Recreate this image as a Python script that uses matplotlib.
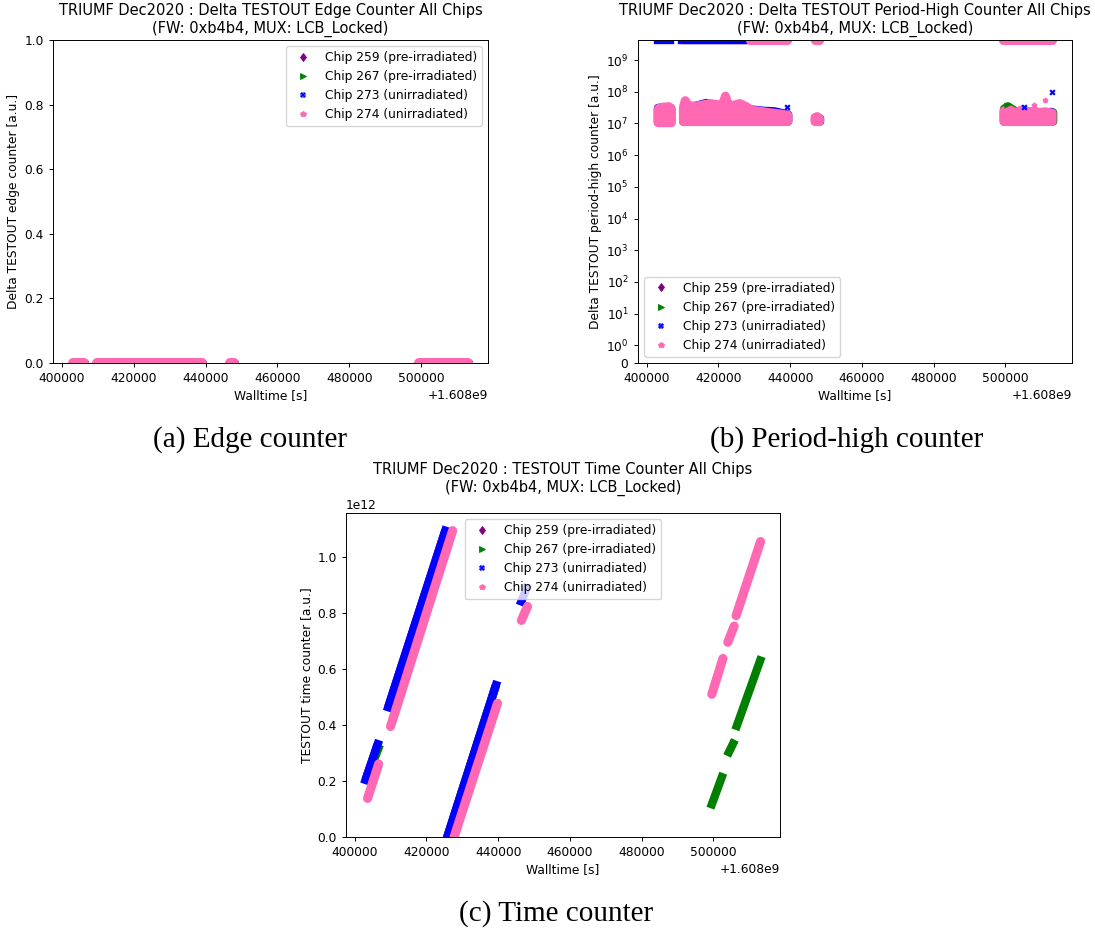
import matplotlib
matplotlib.use("Agg")
import matplotlib.pyplot as plt
from matplotlib.lines import Line2D

# ---------------- data ----------------
OFFSET = 1.608e9  # walltime offset [s]

chip_labels = ["Chip 259 (pre-irradiated)", "Chip 267 (pre-irradiated)",
               "Chip 273 (unirradiated)", "Chip 274 (unirradiated)"]
chip_colors = ["purple", "green", "blue", "hotpink"]
chip_markers = ["d", ">", "X", "p"]
chip_caps = ["butt", "butt", "projecting", "round"]

# (a) delta edge counter: readout runs (walltime - offset) and value
edge_run_start = [403100, 409800, 446700, 499400, 503700, 506100]
edge_run_end = [406300, 439000, 447800, 502900, 506000, 512900]
edge_value = [0, 0, 0, 0, 0, 0]

# (b) delta period-high counter
# wrapped values (~2^32) seen at the top of the axis
ph_top_value = 4.29e9
ph_top_start = {0: [409800], 1: [499400], 2: [403000, 409800], 3: [428900, 446800, 499400]}
ph_top_end = {0: [428000], 1: [513300], 2: [406600, 428400], 3: [439200, 447900, 513100]}

# envelopes of the dense point clouds: time, lower value, upper value
ph_259_t = [410100, 420000, 439000]
ph_259_lo = [1.2e7, 1.2e7, 1.2e7]
ph_259_hi = [3.0e7, 3.0e7, 1.8e7]

ph_267_t = [499500, 500600, 503000, 506500, 510000, 513200]
ph_267_lo = [1.2e7, 1.2e7, 1.2e7, 1.2e7, 1.2e7, 1.2e7]
ph_267_hi = [3.0e7, 3.6e7, 2.4e7, 2.4e7, 2.2e7, 2.3e7]

ph_273_t = [[403000, 406700],
            [410100, 414500, 416500, 418000, 425000, 432500, 435500, 439300],
            [446800, 448200],
            [499500, 503000, 504800, 506000, 509000, 512800]]
ph_273_lo = [[1.1e7, 1.1e7],
             [1.2e7, 1.2e7, 1.2e7, 1.2e7, 1.2e7, 1.2e7, 1.2e7, 1.2e7],
             [1.2e7, 1.2e7],
             [1.2e7, 1.2e7, 1.2e7, 1.2e7, 1.2e7, 1.2e7]]
ph_273_hi = [[3.0e7, 3.0e7],
             [3.0e7, 4.0e7, 4.6e7, 4.0e7, 3.2e7, 2.6e7, 2.5e7, 2.0e7],
             [1.4e7, 1.5e7],
             [2.3e7, 2.2e7, 2.8e7, 2.3e7, 2.2e7, 2.4e7]]

ph_274_t = [[403000, 403600, 406000, 406700],
            [410100, 410600, 411400, 413300, 415500, 417500, 419800, 421200,
             421800, 422400, 423500, 425800, 427600, 429100, 431500, 433700,
             436500, 439200],
            [446800, 447400, 448000],
            [499500, 501000, 503000, 504500, 506500, 507900, 509500, 511000, 512900]]
ph_274_lo = [[1.1e7, 1.1e7, 1.1e7, 1.1e7],
             [1.2e7] * 18,
             [1.2e7, 1.2e7, 1.2e7],
             [1.2e7] * 9]
ph_274_hi = [[2.9e7, 3.3e7, 3.5e7, 3.0e7],
             [3.4e7, 5.4e7, 3.8e7, 3.6e7, 4.0e7, 4.4e7, 4.0e7, 4.5e7,
              7.5e7, 4.5e7, 3.7e7, 4.4e7, 3.5e7, 2.7e7, 2.5e7, 2.3e7,
              2.1e7, 1.9e7],
            [1.6e7, 1.7e7, 1.5e7],
            [2.6e7, 2.8e7, 2.2e7, 2.8e7, 2.4e7, 2.5e7, 2.3e7, 2.4e7, 2.2e7]]

# isolated points above the clouds
ph_out_t = {1: [500600], 2: [439000, 505200, 513000], 3: [507900, 511100]}
ph_out_v = {1: [3.8e7], 2: [3.3e7, 3.2e7, 1.0e8], 3: [3.8e7, 5.4e7]}

# (c) time counter: straight readout stretches (start/end time, start/end value)
tc_t0 = {0: [403000, 409320, 425800],
         1: [402950, 409300, 425800, 499190, 503840, 506150],
         2: [403000, 409320, 425800, 446460],
         3: [403560, 409970, 427700, 446460, 499580, 504030, 506350]}
tc_t1 = {0: [406400, 425240, 439370],
         1: [407000, 425200, 439300, 502770, 506020, 513460],
         2: [406400, 425240, 439370, 447890],
         3: [406660, 427280, 439810, 448170, 502680, 505830, 513180]}
tc_v0 = {0: [0.204e12, 0.464e12, 0.0],
         1: [0.196e12, 0.456e12, 0.0, 0.103e12, 0.290e12, 0.383e12],
         2: [0.204e12, 0.464e12, 0.0, 0.842e12],
         3: [0.138e12, 0.395e12, 0.0, 0.774e12, 0.510e12, 0.696e12, 0.791e12]}
tc_v1 = {0: [0.332e12, 1.095e12, 0.543e12],
         1: [0.330e12, 1.088e12, 0.540e12, 0.228e12, 0.347e12, 0.645e12],
         2: [0.332e12, 1.095e12, 0.543e12, 0.889e12],
         3: [0.261e12, 1.095e12, 0.478e12, 0.824e12, 0.638e12, 0.754e12, 1.056e12]}

XLIM = (397550, 518600)
BAND_LW = [6.0, 6.0, 6.0, 6.6]

# ---------------- figure ----------------
W, H = 1095, 930
fig = plt.figure(figsize=(W / 100, H / 100), dpi=100)

FS_TITLE = 10.5
FS = 8.8
plt.rcParams.update({
    "font.size": FS,
    "axes.linewidth": 0.7,
    "xtick.major.size": 3.1,
    "ytick.major.size": 3.1,
    "xtick.major.width": 0.7,
    "ytick.major.width": 0.7,
    "xtick.labelsize": FS,
    "ytick.labelsize": FS,
})


def add_axes(left, top, right, bottom):
    return fig.add_axes([left / W, 1 - bottom / H, (right - left) / W, (bottom - top) / H])


def legend_handles():
    return [Line2D([], [], linestyle="none", marker=m, color=c, markersize=4.3,
                   markeredgewidth=0.6 if m != "X" else 0.2)
            for m, c in zip(chip_markers, chip_colors)]


def decorate(ax, title, ylabel):
    ax.set_title(title, fontsize=FS_TITLE, pad=5.3)
    ax.set_xlabel("Walltime [s]", fontsize=FS, labelpad=3)
    ax.set_ylabel(ylabel, fontsize=FS, labelpad=3)
    ax.set_xlim(OFFSET + XLIM[0], OFFSET + XLIM[1])
    ax.xaxis.get_offset_text().set_fontsize(FS)


# ---- (a) edge counter
axa = add_axes(53, 40, 488, 363)
for ci in range(4):
    for s, e, v in zip(edge_run_start, edge_run_end, edge_value):
        axa.plot([OFFSET + s, OFFSET + e], [v, v], color=chip_colors[ci],
                 lw=BAND_LW[ci] + 0.6, solid_capstyle="round", clip_on=True)
axa.set_ylim(0, 1)
decorate(axa, "TRIUMF Dec2020 : Delta TESTOUT Edge Counter All Chips\n(FW: 0xb4b4, MUX: LCB_Locked)",
         "Delta TESTOUT edge counter [a.u.]")
axa.legend(legend_handles(), chip_labels, loc="upper right", fontsize=FS)

# ---- (b) period-high counter
axb = add_axes(638, 40, 1072, 363)
axb.set_yscale("symlog", linthresh=1, linscale=0.5)


def cloud(ax, t, lo, hi, color, lw):
    ax.fill_between([OFFSET + x for x in t], lo, hi, color=color, lw=lw,
                    edgecolor=color, joinstyle="round")


cloud(axb, ph_259_t, ph_259_lo, ph_259_hi, chip_colors[0], BAND_LW[0])
cloud(axb, ph_267_t, ph_267_lo, ph_267_hi, chip_colors[1], BAND_LW[1])
for t, lo, hi in zip(ph_273_t, ph_273_lo, ph_273_hi):
    cloud(axb, t, lo, hi, chip_colors[2], BAND_LW[2])
for t, lo, hi in zip(ph_274_t, ph_274_lo, ph_274_hi):
    cloud(axb, t, lo, hi, chip_colors[3], BAND_LW[3])
for ci in range(4):
    for s, e in zip(ph_top_start[ci], ph_top_end[ci]):
        axb.plot([OFFSET + s, OFFSET + e], [ph_top_value, ph_top_value],
                 color=chip_colors[ci], lw=BAND_LW[ci], solid_capstyle=chip_caps[ci])
    if ci in ph_out_t:
        axb.scatter([OFFSET + x for x in ph_out_t[ci]], ph_out_v[ci], s=20,
                    marker=chip_markers[ci], color=chip_colors[ci], zorder=3,
                    linewidths=0)
axb.set_ylim(0, 4.3e9)
decorate(axb, "TRIUMF Dec2020 : Delta TESTOUT Period-High Counter All Chips\n(FW: 0xb4b4, MUX: LCB_Locked)",
         "Delta TESTOUT period-high counter [a.u.]")
axb.legend(legend_handles(), chip_labels, loc="lower left", fontsize=FS)

# ---- (c) time counter
axc = add_axes(346, 513, 780, 837)
for ci in range(4):
    for t0, t1, v0, v1 in zip(tc_t0[ci], tc_t1[ci], tc_v0[ci], tc_v1[ci]):
        axc.plot([OFFSET + t0, OFFSET + t1], [v0, v1], color=chip_colors[ci],
                 lw=BAND_LW[ci], solid_capstyle=chip_caps[ci])
axc.set_ylim(0, 1.158e12)
decorate(axc, "TRIUMF Dec2020 : TESTOUT Time Counter All Chips\n(FW: 0xb4b4, MUX: LCB_Locked)",
         "TESTOUT time counter [a.u.]")
axc.yaxis.get_offset_text().set_fontsize(FS)
axc.legend(legend_handles(), chip_labels, loc="upper center", fontsize=FS)

# ---- captions
cap_kw = dict(fontsize=21, family="Liberation Serif", ha="center", va="center")
fig.text(250 / W, 1 - 440 / H, "(a) Edge counter", **cap_kw)
fig.text(847 / W, 1 - 440 / H, "(b) Period-high counter", **cap_kw)
fig.text(556 / W, 1 - 914 / H, "(c) Time counter", **cap_kw)

fig.savefig("out.png", dpi=100)
